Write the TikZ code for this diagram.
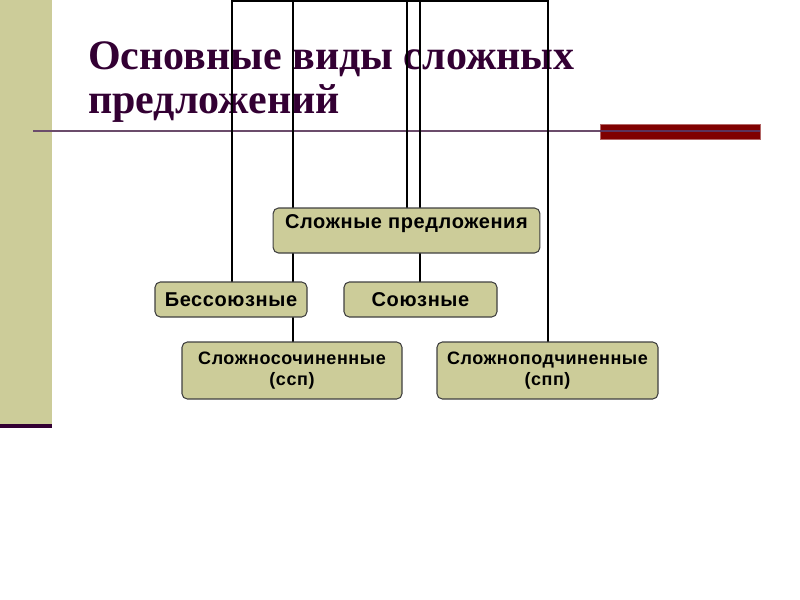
\documentclass[tikz,border=0pt]{standalone}
\usepackage{fontspec}
\setmainfont{Liberation Serif}
\newfontfamily\boxfont[LetterSpace=3]{Liberation Sans Bold}
\usetikzlibrary{positioning}
\definecolor{slidebar}{HTML}{CCCC99}
\definecolor{titleplum}{HTML}{330033}
\definecolor{ruleplum}{HTML}{6B4C6B}
\definecolor{barred}{HTML}{800000}
\definecolor{boxfill}{HTML}{CCCC99}
\tikzset{
  kind/.style={draw=black!75, fill=boxfill, rounded corners=4pt, thick,
    inner sep=0pt, font=\boxfont\fontsize{15}{17}\selectfont, align=center}, % every box in the chart
  subkind/.style={kind, font=\boxfont\fontsize{13.5}{16}\selectfont}, % lower row, smaller text
  link/.style={draw=black, thick}, % the chart's connectors
}

\begin{document}
\begin{tikzpicture}[x=0.75pt,y=-0.75pt]
  \useasboundingbox (0,0) rectangle (800,600);

  % slide decoration
  \fill[slidebar] (0,0) rectangle (52,424);
  \fill[titleplum] (0,424) rectangle (52,428);
  \draw[ruleplum, line width=1.5pt] (33,131) -- (760,131);
  \fill[barred, draw=barred!60] (600,124) rectangle (760,139);
  \draw[titleplum!80, line width=1pt] (600,131) -- (760,131);

  \node[anchor=base west, text=titleplum, font=\fontsize{31.5}{33}\selectfont\bfseries,
    align=left, inner sep=0pt] (title) at (88,113)
    {Основные виды сложных\\предложений};

  % connectors first, boxes drawn over them
  \coordinate (top1) at (232,1);
  \coordinate (top5) at (548,1);
  \draw[link] (232,282) coordinate (bessTop) -- (top1) -- (top5) -- (548,342) coordinate (sppTop);
  \draw[link] (293,342) coordinate (sspTop) -- (293,1);
  \draw[link] (407,208) coordinate (rootTop) -- (407,1);
  \draw[link] (420,282) coordinate (soyTop) -- (420,1);

  \node[kind, minimum width=200pt, text height=15pt, text depth=18.75pt] (root)
    at (406.5,230.5) {Сложные предложения};
  \node[kind, minimum width=114pt, minimum height=26.25pt] (bess) at (231,299.5) {Бессоюзные};
  \node[kind, minimum width=114.75pt, minimum height=26.25pt] (soyuz) at (420.5,299.5) {Союзные};
  \node[subkind, minimum width=165pt, minimum height=42.75pt] (ssp) at (292,370.5)
    {Сложносочиненные\\(ссп)};
  \node[subkind, minimum width=165.75pt, minimum height=42.75pt] (spp) at (547.5,370.5)
    {Сложноподчиненные\\(спп)};
\end{tikzpicture}
\end{document}
